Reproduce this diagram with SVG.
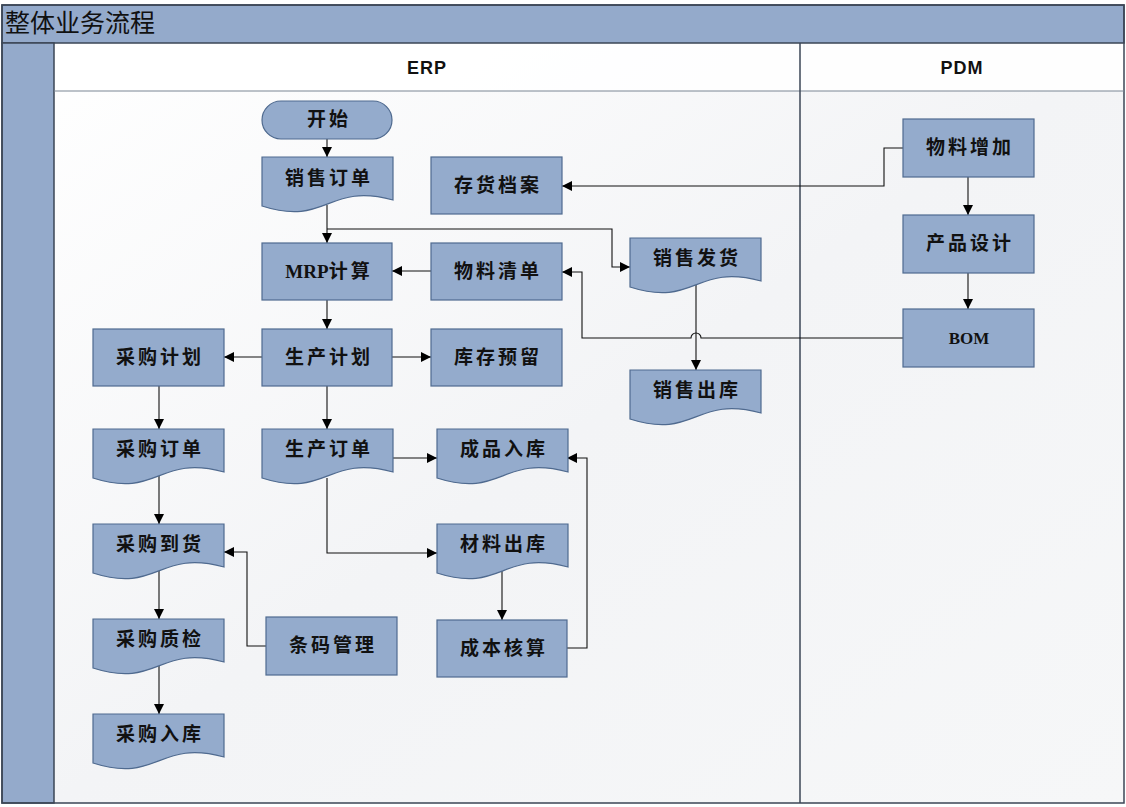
<svg xmlns="http://www.w3.org/2000/svg" width="1126" height="807" viewBox="0 0 1126 807">
<defs>
<linearGradient id="bg" x1="0" y1="0" x2="1" y2="1">
<stop offset="0" stop-color="#ffffff"/>
<stop offset="0.5" stop-color="#f3f4f6"/>
<stop offset="1" stop-color="#f6f7f8"/>
</linearGradient>
<marker id="ah" viewBox="0 0 10 10" refX="10" refY="5" markerWidth="10" markerHeight="10" markerUnits="userSpaceOnUse" orient="auto">
<path d="M0,0 L10,5 L0,10 Z" fill="#000"/>
</marker>
<path id="doc" d="M0,0 H131 V43 C65,25 65,70 0,49 Z"/>
</defs>
<style>
.lane{fill:#94aacb;stroke:#3b4656;stroke-width:1.5}
.frame{fill:none;stroke:#3b4656;stroke-width:1.5}
.n{fill:#94abcc;stroke:#4f6a8f;stroke-width:1.2}
.t{font-family:"Noto Sans CJK SC","Noto Sans",sans-serif;font-weight:bold;font-size:19px;fill:#111;text-anchor:middle;letter-spacing:3px}
.hdr{font-family:"Liberation Sans",Arial,sans-serif;font-weight:bold;font-size:18px;fill:#111;text-anchor:middle;letter-spacing:1px}
.c{fill:none;stroke:#111;stroke-width:1.1;marker-end:url(#ah)}
</style>
<rect x="0" y="0" width="1126" height="807" fill="#ffffff"/>
<rect x="54" y="43" width="1070" height="760" fill="url(#bg)"/>
<rect x="54" y="43" width="1070" height="48" fill="#ffffff" opacity="0.85"/>
<rect class="lane" x="2" y="5" width="1122" height="38"/>
<rect class="lane" x="2" y="43" width="52" height="760"/>
<rect class="frame" x="2" y="5" width="1122" height="798"/>
<line x1="54" y1="91" x2="1124" y2="91" style="stroke:#7a8594;stroke-width:1.2"/>
<line class="frame" x1="800" y1="43" x2="800" y2="803"/>
<text x="5" y="32" font-family="Noto Sans CJK SC, sans-serif" font-size="25" fill="#111">整体业务流程</text>
<text class="hdr" x="427" y="74">ERP</text>
<text class="hdr" x="962" y="74">PDM</text>

<g id="connectors">
<path class="c" d="M327,139 V157"/>
<path class="c" d="M327,205 V243"/>
<path class="c" d="M327,229 H612 V267 H630"/>
<path class="c" d="M903,148 H884 V186 H562"/>
<path class="c" d="M968,177 V215"/>
<path class="c" d="M968,273 V309"/>
<path class="c" d="M903,338 H701 A5,5 0 0 0 691,338 H582 V272 H562"/>
<path class="c" d="M431,271 H392"/>
<path class="c" d="M327,300 V329"/>
<path class="c" d="M262,357 H224"/>
<path class="c" d="M392,357 H431"/>
<path class="c" d="M327,386 V429"/>
<path class="c" d="M159,386 V429"/>
<path class="c" d="M696,285 V370"/>
<path class="c" d="M392,458 H437"/>
<path class="c" d="M327,478 V553 H437"/>
<path class="c" d="M502,571 V620"/>
<path class="c" d="M567,648 H587 V458 H567"/>
<path class="c" d="M159,476 V524"/>
<path class="c" d="M266,646 H247 V552 H224"/>
<path class="c" d="M159,571 V619"/>
<path class="c" d="M159,666 V714"/>
</g>

<g id="start"><rect class="n" x="262" y="101" width="130" height="38" rx="19"/><text class="t" x="329" y="126">开始</text></g>
<g id="xsdd"><use href="#doc" class="n" x="262" y="157"/><text class="t" x="329" y="185">销售订单</text></g>
<g id="chda"><rect class="n" x="431" y="157" width="131" height="57"/><text class="t" x="498" y="192">存货档案</text></g>
<g id="mrp"><rect class="n" x="262" y="243" width="130" height="57"/><text class="t" x="329" y="278"><tspan font-family="Liberation Serif,serif" letter-spacing="0">MRP</tspan>计算</text></g>
<g id="wlqd"><rect class="n" x="431" y="243" width="131" height="57"/><text class="t" x="498" y="278">物料清单</text></g>
<g id="xsfh"><use href="#doc" class="n" x="630" y="238"/><text class="t" x="697" y="265">销售发货</text></g>
<g id="cgjh"><rect class="n" x="93" y="329" width="131" height="57"/><text class="t" x="160" y="364">采购计划</text></g>
<g id="scjh"><rect class="n" x="262" y="329" width="130" height="57"/><text class="t" x="329" y="364">生产计划</text></g>
<g id="kcyl"><rect class="n" x="431" y="329" width="131" height="57"/><text class="t" x="498" y="364">库存预留</text></g>
<g id="xsck"><use href="#doc" class="n" x="630" y="370"/><text class="t" x="697" y="397">销售出库</text></g>
<g id="cgdd"><use href="#doc" class="n" x="93" y="429"/><text class="t" x="160" y="456">采购订单</text></g>
<g id="scdd"><use href="#doc" class="n" x="262" y="429"/><text class="t" x="329" y="456">生产订单</text></g>
<g id="cprk"><use href="#doc" class="n" x="437" y="429"/><text class="t" x="504" y="456">成品入库</text></g>
<g id="clck"><use href="#doc" class="n" x="437" y="524"/><text class="t" x="504" y="551">材料出库</text></g>
<g id="cbhs"><rect class="n" x="437" y="620" width="130" height="57"/><text class="t" x="504" y="655">成本核算</text></g>
<g id="cgdh"><use href="#doc" class="n" x="93" y="524"/><text class="t" x="160" y="551">采购到货</text></g>
<g id="tmgl"><rect class="n" x="266" y="617" width="131" height="58"/><text class="t" x="333" y="652">条码管理</text></g>
<g id="cgzj"><use href="#doc" class="n" x="93" y="619"/><text class="t" x="160" y="646">采购质检</text></g>
<g id="cgrk"><use href="#doc" class="n" x="93" y="714"/><text class="t" x="160" y="741">采购入库</text></g>
<g id="wlzj"><rect class="n" x="903" y="119" width="131" height="58"/><text class="t" x="970" y="154">物料增加</text></g>
<g id="cpsj"><rect class="n" x="903" y="215" width="131" height="58"/><text class="t" x="970" y="250">产品设计</text></g>
<g id="bom"><rect class="n" x="903" y="309" width="131" height="58"/><text class="t" x="969" y="344" style="font-family:'Liberation Serif',serif;font-size:17px;letter-spacing:0">BOM</text></g>
</svg>
